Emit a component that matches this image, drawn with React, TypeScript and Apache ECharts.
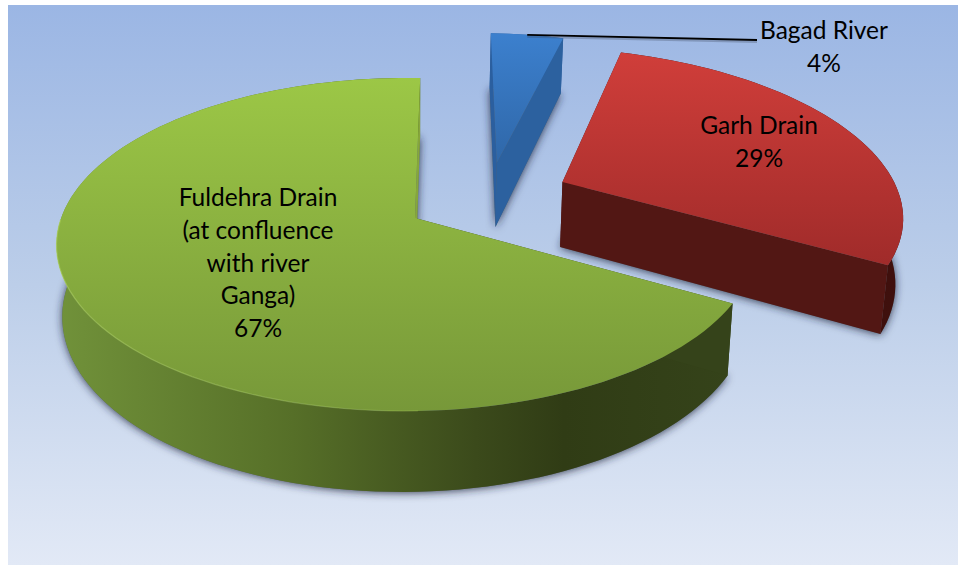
import React, { useEffect, useRef } from "react";
import * as echarts from "echarts";

const categories = ["Bagad River", "Garh Drain", "Fuldehra Drain\n(at confluence\nwith river\nGanga)"];
const shares = [4, 29, 67];

const START_ANGLE = 1;
const CX = 415, CY = 218, RX = 345, RY = 162.3, KY = 0.159, KX = 0.025, DEPTH = 68, SHRINK = 0.984;

const explode = [[0.252, 0.36], [0.448, 0.232], [0, 0]];
const radiusScale = [1.04, 1.045, 1];
const labelPos = [[824, 45.5], [759, 140.5], [258, 262]];
const leaderEnd = [757, 40];
const topStops = [["#3c80ce", "#2f67a8"], ["#d03e3a", "#a02b2a"], ["#9cc746", "#779839"]];
const sideStops = [
  [[0, "#2b5f9f"], [1, "#2b5f9f"]],
  [[0, "#3a0f0c"], [1, "#3f100d"]],
  [[0, "#71923a"], [0.35, "#566f28"], [0.62, "#3b4a1b"], [0.75, "#303c15"], [1, "#35431a"]],
];
const startWall = ["#2b5f9f", "#521714", "#35431a"];
const endWall = ["#2c619f", "#521714", "#86a63b"];

const total = shares.reduce((a, b) => a + b, 0);
const rad = (d: number) => (d * Math.PI) / 180;

function project(wx: number, wy: number) {
  const w = 1 + KY * wy + KX * wx;
  return { x: CX + (RX * wx) / w, y: CY - (RY * wy) / w, w };
}
const lower = (p: any) => [CX + (p.x - CX) * SHRINK, p.y + DEPTH / p.w];

function renderSlice(params: any, api: any) {
  const i = params.dataIndex;
  const value = api.value(0);
  let before = 0;
  for (let k = 0; k < i; k++) before += shares[k];
  const a0 = START_ANGLE + (before / total) * 360;
  const a1 = a0 + (value / total) * 360;
  const [ex, ey] = explode[i];
  const r = radiusScale[i];
  const apex = project(ex, ey);
  const rim: any[] = [];
  const steps = Math.max(8, Math.round((a1 - a0) / 2));
  for (let s = 0; s <= steps; s++) {
    const t = rad(a0 + ((a1 - a0) * s) / steps);
    rim.push(project(ex + r * Math.sin(t), ey + r * Math.cos(t)));
  }
  const first = rim[0], last = rim[rim.length - 1];
  const topPts = [[apex.x, apex.y], ...rim.map((p) => [p.x, p.y])];
  const botPts = [lower(apex), ...rim.map(lower)];
  const outer = [...rim.map((p) => [p.x, p.y]), ...rim.map(lower).reverse()];
  const horiz = new echarts.graphic.LinearGradient(0, 0, 1, 0, sideStops[i].map(([offset, color]: any) => ({ offset, color })));
  const vert = new echarts.graphic.LinearGradient(0, 0, 0, 1, [
    { offset: 0, color: topStops[i][0] },
    { offset: 1, color: topStops[i][1] },
  ]);
  const children: any[] = [
    {
      type: "polygon",
      shape: { points: botPts },
      style: { fill: "#55606e", shadowBlur: 8, shadowColor: "rgba(30,40,60,0.85)", shadowOffsetX: 0, shadowOffsetY: 1 },
    },
    { type: "polygon", shape: { points: outer }, style: { fill: horiz } },
    {
      type: "polygon",
      shape: { points: [[apex.x, apex.y], [first.x, first.y], lower(first), lower(apex)] },
      style: { fill: startWall[i] },
    },
    {
      type: "polygon",
      shape: { points: [[apex.x, apex.y], [last.x, last.y], lower(last), lower(apex)] },
      style: { fill: endWall[i] },
    },
    { type: "polygon", shape: { points: topPts }, style: { fill: vert } },
  ];
  if (i === 2) {
    const front = rim.filter((p) => p.y > CY && p.x < 420).map((p) => [p.x, p.y]);
    children.push({
      type: "polyline",
      shape: { points: front },
      style: {
        fill: "none",
        lineWidth: 1.2,
        stroke: new echarts.graphic.LinearGradient(0, 0, 1, 0, [
          { offset: 0, color: "rgba(175,212,95,0.6)" },
          { offset: 1, color: "rgba(175,212,95,0.25)" },
        ]),
      },
    });
  }
  if (i === 0) {
    const mid = rim[Math.floor(rim.length / 2)];
    children.push(
      {
        type: "line",
        shape: { x1: mid.x, y1: mid.y + 2, x2: leaderEnd[0], y2: leaderEnd[1] + 2 },
        style: { stroke: "rgba(60,70,90,0.3)", lineWidth: 2 },
      },
      {
        type: "line",
        shape: { x1: mid.x, y1: mid.y, x2: leaderEnd[0], y2: leaderEnd[1] },
        style: { stroke: "#000000", lineWidth: 1.8 },
      }
    );
  }
  children.push({
    type: "text",
    style: {
      text: `${categories[i]}\n${value}%`,
      x: labelPos[i][0],
      y: labelPos[i][1],
      align: "center",
      verticalAlign: "middle",
      font: '24.5px Lato, "Open Sans", sans-serif',
      lineHeight: i === 2 ? 32.7 : 33,
      fill: "#000000",
    },
  });
  return { type: "group", children };
}

export default function App() {
  const ref = useRef<HTMLDivElement>(null);
  useEffect(() => {
    const chart = echarts.init(ref.current!, undefined, { renderer: "svg" });
    chart.setOption({
      animation: false,
      graphic: [
        {
          type: "rect",
          z: -10,
          silent: true,
          shape: { x: 8, y: 5, width: 950, height: 560 },
          style: {
            fill: new echarts.graphic.LinearGradient(0, 0, 0, 1, [
              { offset: 0, color: "#9bb6e4" },
              { offset: 0.5, color: "#bccee9" },
              { offset: 1, color: "#e2e9f6" },
            ]),
          },
        },
      ],
      series: [
        {
          type: "custom",
          coordinateSystem: "none",
          silent: true,
          clip: false,
          renderItem: renderSlice,
          data: shares.map((v) => [v]),
        },
      ],
    });
    return () => chart.dispose();
  }, []);
  return <div ref={ref} style={{ position: "absolute", left: 0, top: 0, width: 958, height: 565 }} />;
}
